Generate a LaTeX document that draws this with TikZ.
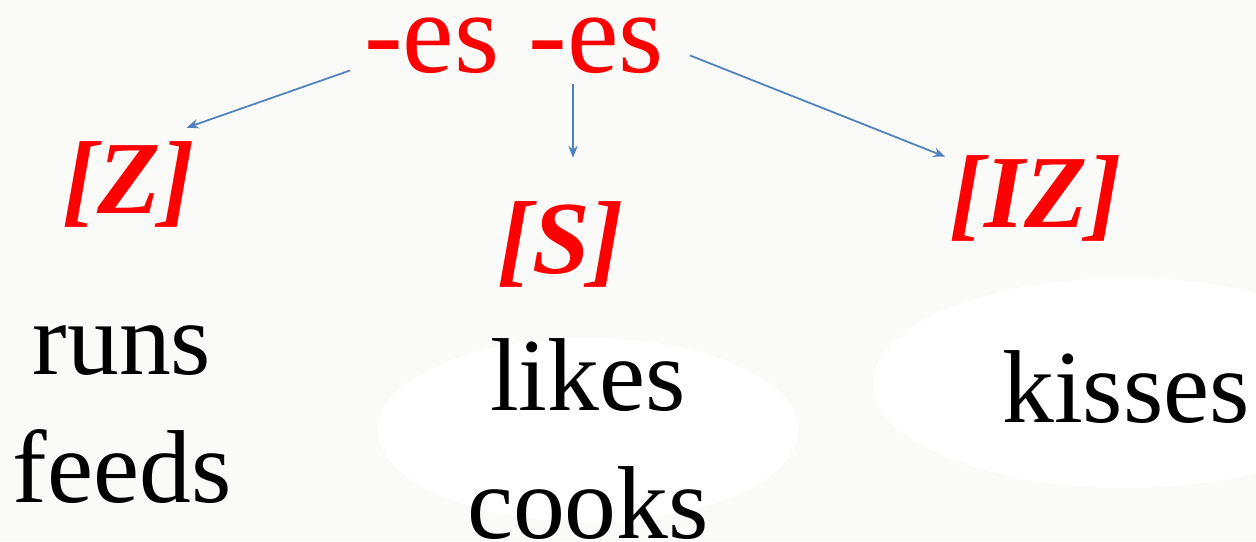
\documentclass[tikz,border=0pt]{standalone}
\usepackage{fontspec}
\setmainfont{Liberation Serif}
\usetikzlibrary{arrows.meta,positioning}
\definecolor{bgpaper}{RGB}{250,250,248}
\definecolor{arrblue}{RGB}{79,129,189}

\begin{document}
\begin{tikzpicture}[x=0.02cm,y=-0.02cm,
	suffix/.style={text=red,inner sep=0pt,anchor=base,font=\fontsize{66}{70}\selectfont},
	sound/.style={text=red,inner sep=0pt,anchor=base,font=\fontsize{59}{62}\selectfont\bfseries\itshape},
	word/.style={text=black,inner sep=0pt,anchor=base,font=\fontsize{59}{62}\selectfont},
	arr/.style={draw=arrblue,line width=1pt,-{Stealth[length=2.4mm,width=1.9mm]}}]
	\fill[bgpaper] (0,0) rectangle (1256,541);
	\useasboundingbox (0,0) rectangle (1256,541);
	\fill[white] (588,430) ellipse [x radius=210,y radius=92];
	\fill[white] (1126,383) ellipse [x radius=253,y radius=105];
	\node[suffix] (es) at (514,72) {-es -es};
	\node[sound] (z) at (129,213) {[Z]};
	\node[sound] (s) at (561,273) {[S]};
	\node[sound] (iz) at (1036,227) {[IZ]};
	\node[word] (runs) at (122,374) {runs};
	\node[word] (feeds) at (122,502) {feeds};
	\node[word] (likes) at (588,410) {likes};
	\node[word] (cooks) at (588,538) {cooks};
	\node[word] (kisses) at (1126,422) {kisses};
	\draw[arr] ([shift={(-14,-3)}]es.south west) -- ([shift={(-9,-13)}]z.north east);
	\draw[arr] ([shift={(59,11)}]es.south) -- ([shift={(12,-43)}]s.north);
	\draw[arr] ([shift={(26,-18)}]es.south east) -- ([shift={(-4,2)}]iz.north west);
\end{tikzpicture}
\end{document}
